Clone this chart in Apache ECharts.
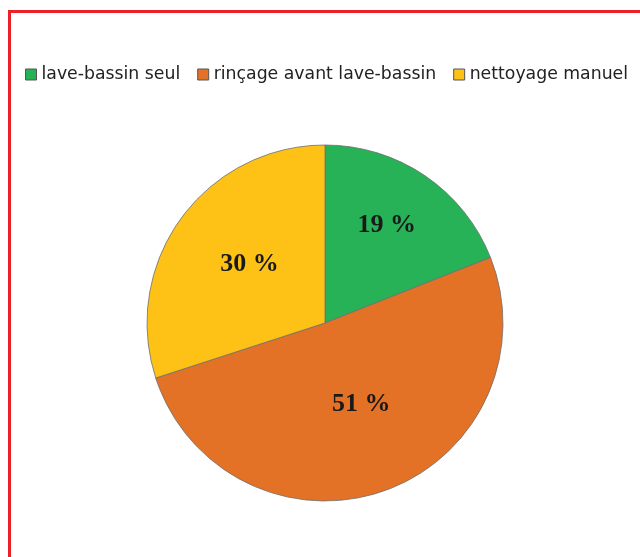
<!DOCTYPE html>
<html>
<head>
<meta charset="utf-8">
<script src="https://cdn.jsdelivr.net/npm/echarts@6/dist/echarts.min.js"></script>
<style>
html,body{margin:0;padding:0;background:#fff;}
#main{width:640px;height:557px;}
</style>
</head>
<body>
<div id="main"></div>
<script>
const categories = ['lave-bassin seul', 'rinçage avant lave-bassin', 'nettoyage manuel'];
const values = [19, 51, 30];
const colors = ['#27b257', '#e37226', '#fdc215'];
const labelOffsets = [[10, -22], [5, -5], [-1, -5]];

const chart = echarts.init(document.getElementById('main'), null, {renderer: 'canvas'});
chart.setOption({
  backgroundColor: '#ffffff',
  animation: false,
  graphic: [{
    type: 'rect',
    shape: {x: 9.5, y: 11.5, width: 700, height: 700},
    style: {fill: 'none', stroke: '#ed1f28', lineWidth: 3},
    silent: true
  }],
  legend: {
    left: 20,
    top: 61,
    icon: 'rect',
    itemWidth: 11,
    itemHeight: 11,
    itemGap: 17,
    textStyle: {fontFamily: 'DejaVu Sans', fontSize: 17.3, color: '#222'},
    itemStyle: {borderColor: '#555', borderWidth: 1},
    data: categories
  },
  series: [{
    type: 'pie',
    center: [325, 323],
    radius: [0, 178],
    startAngle: 90,
    clockwise: true,
    label: {
      show: true,
      position: 'inside',
      formatter: '{c} %',
      fontFamily: 'Liberation Serif',
      fontWeight: 'bold',
      fontSize: 26,
      color: '#1a1a1a'
    },
    labelLine: {show: false},
    itemStyle: {borderColor: '#6e6e6e', borderWidth: 0.8},
    emphasis: {disabled: true},
    data: categories.map((n, i) => ({
      name: n,
      value: values[i],
      itemStyle: {color: colors[i]},
      label: {offset: labelOffsets[i]}
    }))
  }]
});
</script>
</body>
</html>
